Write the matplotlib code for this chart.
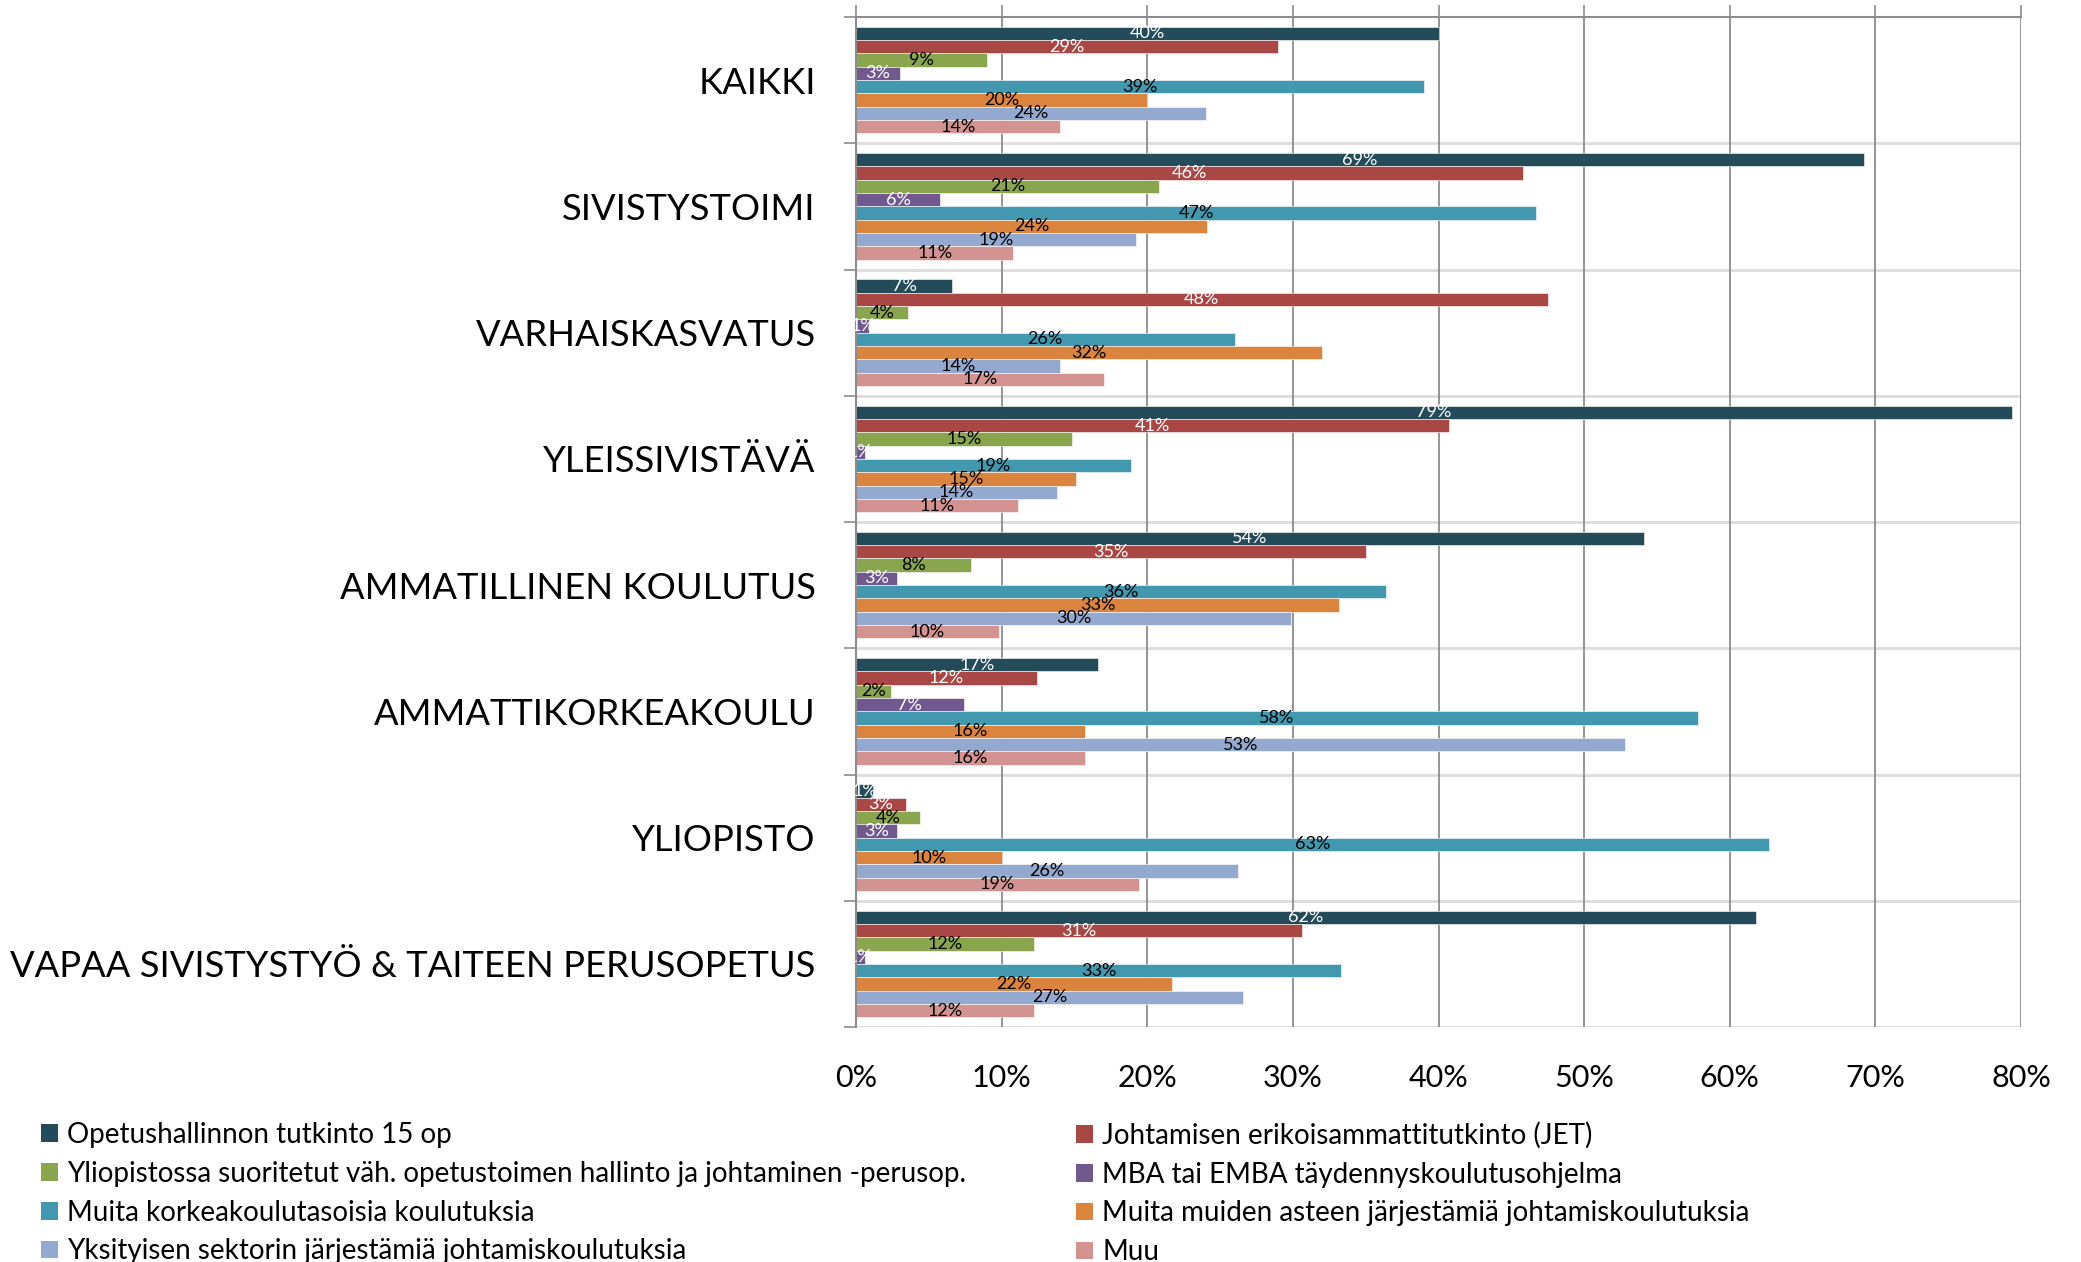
import matplotlib
matplotlib.use("Agg")
import matplotlib.pyplot as plt
from matplotlib.patches import Patch
import numpy as np

plt.rcParams['font.family'] = ['Lato', 'DejaVu Sans']

categories = ["KAIKKI", "SIVISTYSTOIMI", "VARHAISKASVATUS", "YLEISSIVISTÄVÄ",
              "AMMATILLINEN KOULUTUS", "AMMATTIKORKEAKOULU", "YLIOPISTO",
              "VAPAA SIVISTYSTYÖ & TAITEEN PERUSOPETUS"]

series_names = [
    "Opetushallinnon tutkinto 15 op",
    "Johtamisen erikoisammattitutkinto (JET)",
    "Yliopistossa suoritetut väh. opetustoimen hallinto ja johtaminen -perusop.",
    "MBA tai EMBA täydennyskoulutusohjelma",
    "Muita korkeakoulutasoisia koulutuksia",
    "Muita muiden asteen järjestämiä johtamiskoulutuksia",
    "Yksityisen sektorin järjestämiä johtamiskoulutuksia",
    "Muu",
]

# values in percent, one list per series, in category order
opetushallinto = [40.0, 69.2, 6.6, 79.4, 54.1, 16.6, 1.2, 61.8]
jet = [29.0, 45.8, 47.5, 40.7, 35.0, 12.4, 3.4, 30.6]
yliopisto_perusop = [9.0, 20.8, 3.6, 14.8, 7.9, 2.4, 4.4, 12.2]
mba = [3.0, 5.8, 0.9, 0.6, 2.8, 7.4, 2.8, 0.6]
korkeakoulu = [39.0, 46.7, 26.0, 18.9, 36.4, 57.8, 62.7, 33.3]
muut_asteet = [20.0, 24.1, 32.0, 15.1, 33.2, 15.7, 10.0, 21.7]
yksityinen = [24.0, 19.2, 14.0, 13.8, 29.9, 52.8, 26.2, 26.6]
muu = [14.0, 10.8, 17.0, 11.1, 9.8, 15.7, 19.4, 12.2]

series_values = [opetushallinto, jet, yliopisto_perusop, mba, korkeakoulu,
                 muut_asteet, yksityinen, muu]

x_ticks = [0, 10, 20, 30, 40, 50, 60, 70, 80]
x_tick_labels = ["0%", "10%", "20%", "30%", "40%", "50%", "60%", "70%", "80%"]

colors = ["#244B59", "#A94744", "#89A54E", "#71588F", "#4198AF",
          "#DB843D", "#93A9CF", "#D39391"]
label_colors = ["white", "white", "black", "white", "black", "black", "black", "black"]

W, H = 2081, 1262
fig = plt.figure(figsize=(W / 100, H / 100), dpi=100)
ax = fig.add_axes([856 / W, 1 - 1027 / H, (2021 - 856) / W, (1027 - 17) / H])

n_cat = len(categories)
n_ser = len(series_values)
group = 0.845
bh = group / n_ser
grid_gray = "#8C8C8C"

# separators
for k in range(1, n_cat + 1):
    ax.axhline(k, color="#DCDCDC", lw=2.0, zorder=0.5)
ax.axhline(0, color=grid_gray, lw=1.5, zorder=0.6, clip_on=False)

for j, vals in enumerate(series_values):
    ys = np.arange(n_cat) + 0.5 + (j - (n_ser - 1) / 2) * bh
    ax.barh(ys, vals, height=bh, color=colors[j], edgecolor="white",
            linewidth=0.4, zorder=2)
    for y, v in zip(ys, vals):
        ax.text(v / 2, y, f"{round(v)}%", ha="center", va="center",
                fontsize=13, color=label_colors[j], zorder=3)

ax.set_xlim(0, 80)
ax.set_ylim(n_cat, 0)

ax.set_xticks(x_ticks)
ax.set_xticklabels(x_tick_labels, fontsize=22)
ax.tick_params(axis="x", top=True, bottom=False, labeltop=False,
               labelbottom=True, direction="out", length=8.5, width=1.2,
               color=grid_gray, pad=18)
ax.grid(axis="x", color=grid_gray, lw=1.3, zorder=0.7)
ax.set_axisbelow(True)

ax.set_yticks(np.arange(n_cat + 1))
ax.set_yticklabels([])
ax.set_yticks(np.arange(n_cat) + 0.5, minor=True)
ax.set_yticklabels(categories, minor=True, fontsize=26.2)
ax.tick_params(axis="y", which="major", direction="out", length=8.5,
               width=1.2, color=grid_gray)
ax.tick_params(axis="y", which="minor", length=0, pad=29)

for s in ["top", "right", "bottom"]:
    ax.spines[s].set_visible(False)
ax.spines["left"].set_color(grid_gray)
ax.spines["left"].set_linewidth(1.5)

handles = [Patch(facecolor=c, edgecolor="none") for c in colors]
leg_kw = dict(frameon=False, fontsize=20, handlelength=0.6, handleheight=0.6,
              handletextpad=0.35, labelspacing=0.46, borderpad=0,
              borderaxespad=0, loc="upper left")
left_idx = [0, 2, 4, 6]
right_idx = [1, 3, 5, 7]
leg1 = fig.legend([handles[i] for i in left_idx], [series_names[i] for i in left_idx],
                  bbox_to_anchor=(41 / W, 1 - 1122 / H), **leg_kw)
leg2 = fig.legend([handles[i] for i in right_idx], [series_names[i] for i in right_idx],
                  bbox_to_anchor=(1076 / W, 1 - 1122 / H), **leg_kw)

fig.savefig("out.png", dpi=100)
